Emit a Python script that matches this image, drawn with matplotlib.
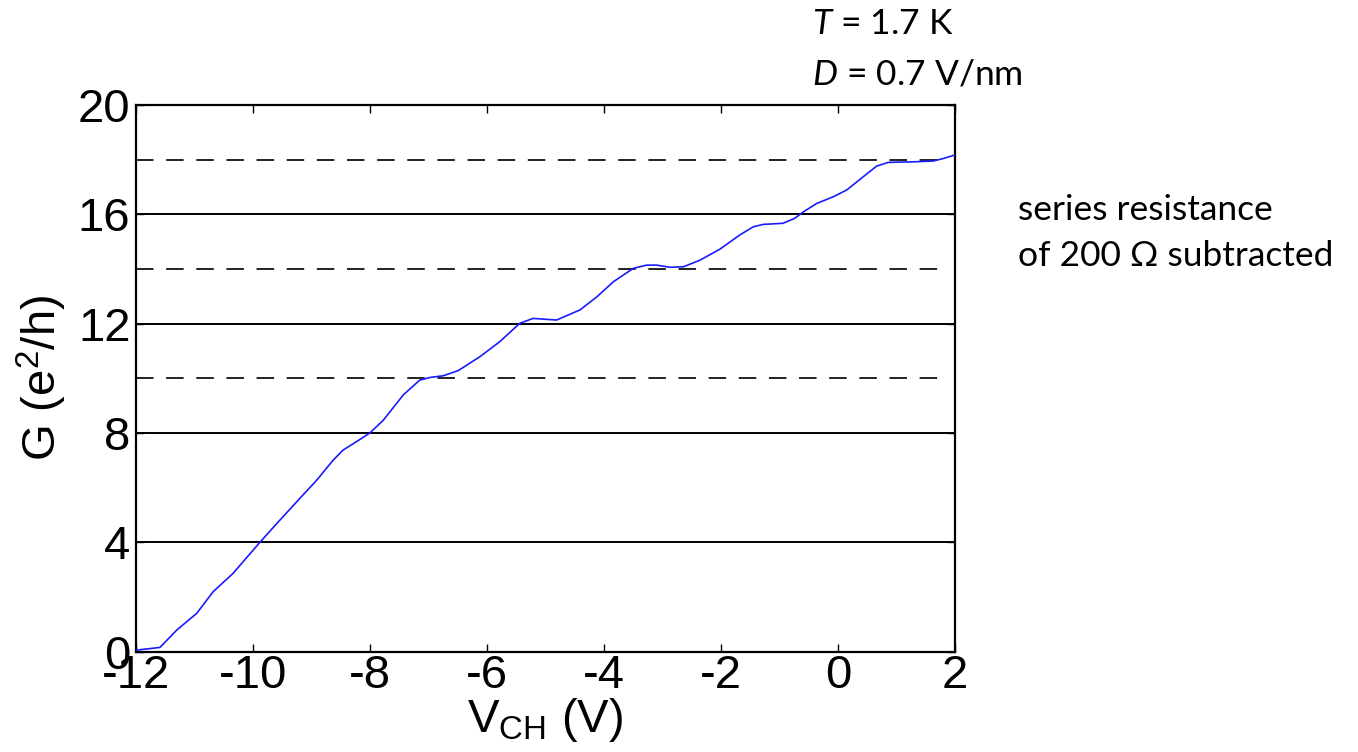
import matplotlib.pyplot as plt
import numpy as np

# conductance trace G(V_CH)
v_ch = [-12.0, -11.59, -11.30, -10.96, -10.68, -10.34, -9.88, -9.59, -9.20, -8.91,
        -8.63, -8.46, -8.23, -8.00, -7.77, -7.43, -7.15, -6.97, -6.75, -6.49,
        -6.12, -5.78, -5.44, -5.21, -4.81, -4.41, -4.12, -3.84, -3.50, -3.27,
        -3.10, -2.87, -2.64, -2.36, -2.02, -1.68, -1.45, -1.28, -0.94, -0.74,
        -0.59, -0.36, -0.08, 0.15, 0.43, 0.66, 0.86, 1.29, 1.63, 1.80, 2.0]
g = [0.05, 0.15, 0.79, 1.40, 2.19, 2.86, 4.00, 4.69, 5.60, 6.27,
     7.00, 7.37, 7.68, 8.00, 8.47, 9.39, 9.93, 10.03, 10.09, 10.28,
     10.79, 11.34, 12.01, 12.19, 12.13, 12.50, 12.98, 13.53, 14.02, 14.14,
     14.14, 14.06, 14.08, 14.32, 14.72, 15.24, 15.54, 15.63, 15.67, 15.85,
     16.09, 16.40, 16.64, 16.89, 17.37, 17.76, 17.90, 17.92, 17.95, 18.04, 18.17]

solid_levels = [4, 8, 12, 16]
dashed_levels = [10, 14, 18]
xticks = [-12, -10, -8, -6, -4, -2, 0, 2]
yticks = [0, 4, 8, 12, 16, 20]

plt.rcParams['font.family'] = ['Liberation Sans', 'DejaVu Sans']
plt.rcParams['mathtext.fontset'] = 'custom'
plt.rcParams['mathtext.it'] = 'Lato:italic'
plt.rcParams['mathtext.rm'] = 'Lato'

fig = plt.figure(figsize=(13.58, 7.52), dpi=100)
ax = fig.add_axes([0.1001, 0.1336, 0.6031, 0.7268])

for lv in solid_levels:
    ax.axhline(lv, color='black', lw=1.4, zorder=1)
for lv in dashed_levels:
    ax.axhline(lv, xmax=0.99, color='#222222', lw=1.4, dashes=(9, 6.5), zorder=1)

ax.plot(v_ch, g, color='#1a1aff', lw=1.2, zorder=3)

ax.set_xlim(-12, 2)
ax.set_ylim(0, 20)
ax.set_xticks(xticks)
ax.set_yticks(yticks)
ax.set_xticklabels([str(t) for t in xticks])
ax.tick_params(direction='in', length=6, width=1, top=True, right=True,
               labelsize=34, pad=4)
ax.tick_params(axis='x', pad=2)
for s in ax.spines.values():
    s.set_linewidth(1.6)

ax.set_xlabel('V$_{\\mathregular{CH}}$ (V)', fontsize=34, labelpad=-2)
ax.set_ylabel('G (e$^{\\mathregular{2}}$/h)', fontsize=34, labelpad=6)

note = dict(family=['Lato', 'DejaVu Sans'], fontsize=25.5)
fig.text(812 / 1358, 1 - 34 / 752, '$T$ = 1.7 K', **note)
fig.text(812 / 1358, 1 - 84 / 752, '$D$ = 0.7 V/nm', **note)
fig.text(1018 / 1358, 1 - 220 / 752, 'series resistance', **note)
fig.text(1018 / 1358, 1 - 266 / 752, 'of 200 Ω subtracted', **note)

fig.savefig('out.png', dpi=100)
